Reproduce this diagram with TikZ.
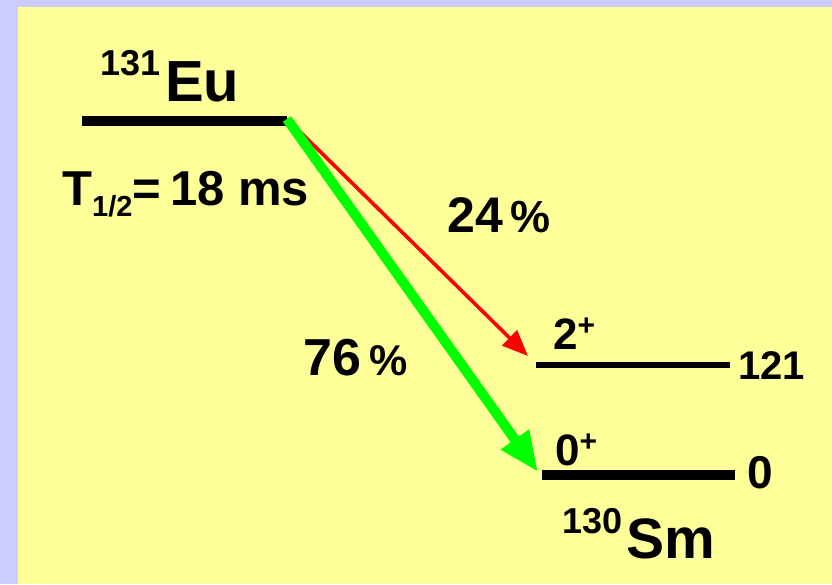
\documentclass[tikz,border=0pt]{standalone}
\usepackage{fontspec}
\setmainfont{Liberation Sans}
\usepackage{xcolor}
\usetikzlibrary{arrows.meta}
\definecolor{paneledge}{HTML}{CCCCFF}
\definecolor{panelfill}{HTML}{FFFF99}
\definecolor{weakbranch}{HTML}{FF0000}
\definecolor{strongbranch}{HTML}{00FF00}
\newcommand\fsz[1]{\fontsize{#1}{#1}\selectfont}

\begin{document}
\begin{tikzpicture}[
  x=1pt,y=-1pt,
  level/.style={line width=10pt,draw=black},
  thinlevel/.style={line width=6pt,draw=black},
  lbl/.style={anchor=base west,inner sep=0pt,font=\bfseries},
  weak/.style={-{Triangle[length=26pt,width=21pt]},line width=3.6pt,draw=weakbranch},
  strong/.style={-{Triangle[length=40pt,width=32pt]},line width=10pt,draw=strongbranch}
]
\fill[paneledge] (0,0) rectangle (832,584);
\fill[panelfill] (18,7) rectangle (832,584);
\useasboundingbox (0,0) rectangle (832,584);

\coordinate (euL) at (82,121);
\coordinate (euR) at (287,121);
\coordinate (exL) at (536,365);
\coordinate (exR) at (730,365);
\coordinate (gsL) at (542,475);
\coordinate (gsR) at (735,475);
\coordinate (src) at (287,119);
\coordinate (exhit) at (528,356);
\coordinate (gshit) at (538,472);

\draw[level] (euL) -- (euR);
\draw[thinlevel] (exL) -- (exR);
\draw[level] (gsL) -- (gsR);

\draw[weak] (src) -- (exhit);
\draw[strong] (src) -- (gshit);

\node[lbl] (parent) at (100,101) {\raisebox{26pt}{\fsz{36}131}\hspace{5pt}\fsz{58}Eu};
\node[lbl] (halflife) at (62,205) {\fsz{49}T\raisebox{-11pt}{\fsz{29}1/2}=\hspace{9pt}18 ms};
\node[lbl] (pweak) at (447,232) {\fsz{50}24\hspace{8pt}\fsz{45}\%};
\node[lbl] (pstrong) at (303,375) {\fsz{52}76\hspace{8pt}\fsz{43}\%};
\node[lbl] (spinex) at (553,349) {\fsz{44}2\raisebox{14pt}{\fsz{30}+}};
\node[lbl] (enex) at (738,379) {\fsz{40}121};
\node[lbl] (spings) at (555,465) {\fsz{44}0\raisebox{14pt}{\fsz{30}+}};
\node[lbl] (engs) at (747,488) {\fsz{46}0};
\node[lbl] (daughter) at (562,558) {\raisebox{25pt}{\fsz{36}130}\hspace{4pt}\fsz{57}Sm};
\end{tikzpicture}
\end{document}
